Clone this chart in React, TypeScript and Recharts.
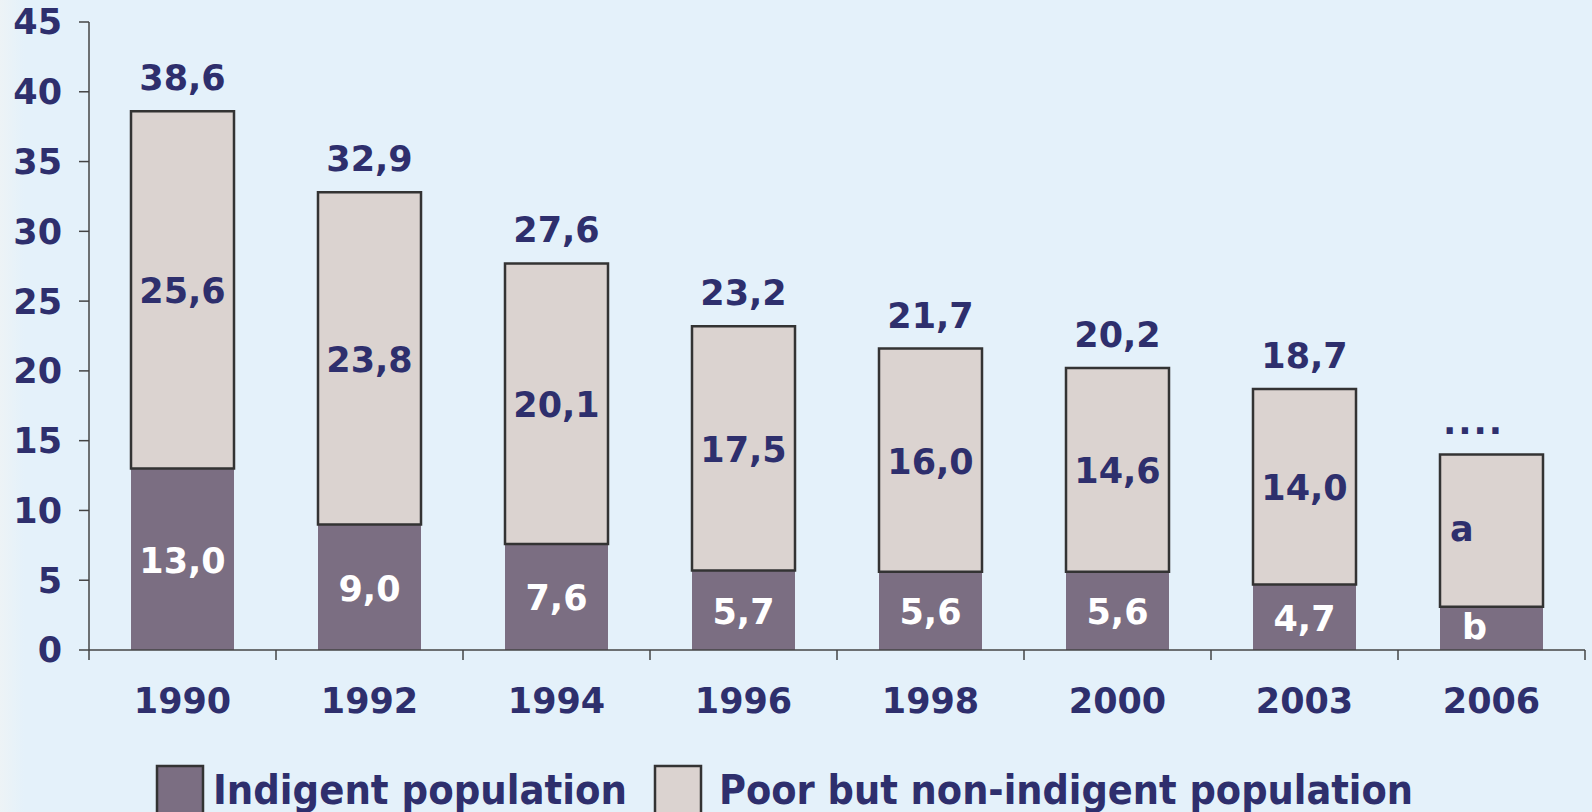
import React from "react";
import { BarChart, Bar, XAxis, YAxis, LabelList } from "recharts";

const years = ["1990", "1992", "1994", "1996", "1998", "2000", "2003", "2006"];
const indigent = [13.0, 9.0, 7.6, 5.7, 5.6, 5.6, 4.7, 3.1];
const poorNonIndigent = [25.6, 23.8, 20.1, 17.5, 16.0, 14.6, 14.0, 10.9];
const indigentLabels = ["13,0", "9,0", "7,6", "5,7", "5,6", "5,6", "4,7", "b"];
const poorLabels = ["25,6", "23,8", "20,1", "17,5", "16,0", "14,6", "14,0", "a"];
const totalLabels = ["38,6", "32,9", "27,6", "23,2", "21,7", "20,2", "18,7", "...."];
const yTicks = [0, 5, 10, 15, 20, 25, 30, 35, 40, 45];
const seriesNames = ["Indigent population", "Poor but non-indigent population"];

const data = years.map((year, i) => ({
  year,
  indigent: indigent[i],
  poor: poorNonIndigent[i],
  indigentLabel: indigentLabels[i],
  poorLabel: poorLabels[i],
  totalLabel: totalLabels[i],
}));

const FONT = "'DejaVu Sans', Verdana, sans-serif";
const FS = 35;
const NAVY = "#2e2f6d";
const AXIS = "#444444";
const INDIGENT = "#7b6e82";
const POOR = "#dbd3d0";
const BORDER = "#333333";

const XTick = (props: any) => {
  const { x, y, payload } = props;
  const idx = props.index ?? payload?.index ?? 0;
  const half = payload?.offset || 93.5;
  const axisY = y - 38;
  return (
    <g>
      <line x1={x - half} x2={x - half} y1={axisY} y2={axisY + 10} stroke={AXIS} strokeWidth={1.5} />
      {idx === years.length - 1 && (
        <line x1={x + half} x2={x + half} y1={axisY} y2={axisY + 10} stroke={AXIS} strokeWidth={1.5} />
      )}
      <text x={x} y={y} dy="0.7em" textAnchor="middle" fill={NAVY}
        fontSize={FS} fontWeight={700} fontFamily={FONT}>
        {payload.value}
      </text>
    </g>
  );
};

const innerLabel = (color: string) => (props: any) => {
  const { x, y, width, height, value } = props;
  const isLetter = value === "a" || value === "b";
  let tx = x + width / 2;
  let anchor = "middle";
  if (value === "a") { tx = x + 10; anchor = "start"; }
  if (value === "b") { tx = x + width / 2 - 17; }
  return (
    <text x={tx} y={y + height / 2} dy={isLetter ? "0.3em" : "0.38em"} textAnchor={anchor}
      fill={color} fontSize={FS} fontWeight={700} fontFamily={FONT}>
      {value}
    </text>
  );
};

const topLabel = (props: any) => {
  const { x, y, width, value } = props;
  const isDots = value === "....";
  return (
    <text x={x + width / 2 - (isDots ? 18 : 0)} y={y - 21} textAnchor="middle" fill={NAVY}
      fontSize={FS} fontWeight={700} fontFamily={FONT} letterSpacing={isDots ? 2 : 0}>
      {value}
    </text>
  );
};

export default function App() {
  return (
    <div style={{
      position: "relative", width: 1592, height: 812, overflow: "hidden",
      background: "linear-gradient(to right, #edf3f6 0px, #e4f1fa 24px)",
    }}>
      <style>{`body{margin:0}`}</style>
      <BarChart width={1592} height={812} data={data}
        margin={{ top: 22, right: 7, left: 0, bottom: 0 }}>
        <YAxis domain={[0, 45]} ticks={yTicks} interval={0} width={89}
          tickSize={10} tickMargin={17}
          axisLine={{ stroke: AXIS, strokeWidth: 1.5 }}
          tickLine={{ stroke: AXIS, strokeWidth: 1.5 }}
          tick={{ fill: NAVY, fontSize: FS, fontWeight: 700, fontFamily: FONT }} />
        <XAxis dataKey="year" height={162} tickSize={10} tickMargin={28} interval={0}
          tickLine={false}
          axisLine={{ stroke: AXIS, strokeWidth: 1.5 }}
          tick={<XTick />} />
        <Bar dataKey="indigent" stackId="a" fill={INDIGENT} barSize={103} isAnimationActive={false}>
          <LabelList dataKey="indigentLabel" content={innerLabel("#ffffff")} />
        </Bar>
        <Bar dataKey="poor" stackId="a" fill={POOR} stroke={BORDER} strokeWidth={2.5}
          barSize={103} isAnimationActive={false}>
          <LabelList dataKey="poorLabel" content={innerLabel(NAVY)} />
          <LabelList dataKey="totalLabel" content={topLabel} />
        </Bar>
      </BarChart>
      <svg width={1592} height={812} style={{ position: "absolute", left: 0, top: 0, pointerEvents: "none" }}>
        <rect x={157} y={766} width={46} height={56} fill={INDIGENT} stroke={BORDER} strokeWidth={2.5} />
        <text x={213} y={804} textLength={414} lengthAdjust="spacingAndGlyphs" fill={NAVY}
          fontSize={40} fontWeight={700} fontFamily={FONT}>{seriesNames[0]}</text>
        <rect x={655} y={766} width={46} height={56} fill={POOR} stroke={BORDER} strokeWidth={2.5} />
        <text x={719} y={804} textLength={694} lengthAdjust="spacingAndGlyphs" fill={NAVY}
          fontSize={40} fontWeight={700} fontFamily={FONT}>{seriesNames[1]}</text>
      </svg>
    </div>
  );
}
